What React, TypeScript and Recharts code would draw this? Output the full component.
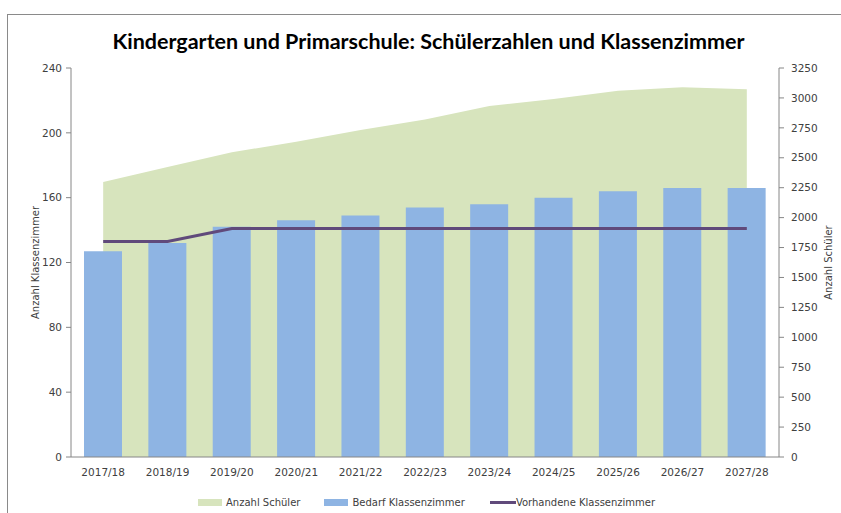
import {
  ComposedChart,
  Area,
  Bar,
  Line,
  XAxis,
  YAxis,
  Legend,
} from "recharts";

const categories = [
  "2017/18",
  "2018/19",
  "2019/20",
  "2020/21",
  "2021/22",
  "2022/23",
  "2023/24",
  "2024/25",
  "2025/26",
  "2026/27",
  "2027/28",
];
// Anzahl Schüler (right axis)
const schueler = [2297, 2423, 2546, 2633, 2732, 2820, 2932, 2990, 3060, 3089, 3073];
// Bedarf Klassenzimmer (left axis)
const bedarf = [127, 132, 142, 146, 149, 154, 156, 160, 164, 166, 166];
// Vorhandene Klassenzimmer (left axis)
const vorhanden = [133, 133, 141, 141, 141, 141, 141, 141, 141, 141, 141];

const leftTicks = [0, 40, 80, 120, 160, 200, 240];
const rightTicks = [
  0, 250, 500, 750, 1000, 1250, 1500, 1750, 2000, 2250, 2500, 2750, 3000, 3250,
];

const data = categories.map((c, i) => ({
  jahr: c,
  schueler: schueler[i],
  bedarf: bedarf[i],
  vorhanden: vorhanden[i],
}));

const GREEN = "#D7E4BD";
const BLUE = "#8EB4E3";
const PURPLE = "#604A7B";
const AXIS = "#868686";
const FONT = "'DejaVu Sans', Verdana, sans-serif";
const tickStyle = { fontSize: 10.5, fill: "#404040", fontFamily: FONT };

function AxisTitle({ viewBox, value, dx }: any) {
  const x = viewBox.x + dx;
  const y = viewBox.y + viewBox.height / 2;
  return (
    <text
      x={x}
      y={y}
      transform={`rotate(-90, ${x}, ${y})`}
      textAnchor="middle"
      dominantBaseline="central"
      fontSize={10}
      fontFamily={FONT}
      fill="#404040"
    >
      {value}
    </text>
  );
}

function LegendBox() {
  const text = { fontSize: 10, fontFamily: FONT, color: "#404040" };
  return (
    <div
      style={{
        display: "flex",
        alignItems: "center",
        height: 22,
        paddingLeft: 198,
        whiteSpace: "nowrap",
      }}
    >
      <span style={{ width: 24, height: 7, background: GREEN, marginRight: 4 }} />
      <span style={{ ...text, marginRight: 24 }}>Anzahl Schüler</span>
      <span style={{ width: 24, height: 7, background: BLUE, marginRight: 4 }} />
      <span style={{ ...text, marginRight: 25 }}>Bedarf Klassenzimmer</span>
      <span style={{ width: 26, height: 3, background: PURPLE }} />
      <span style={text}>Vorhandene Klassenzimmer</span>
    </div>
  );
}

export default function App() {
  return (
    <div
      style={{
        position: "absolute",
        left: 0,
        top: 0,
        width: 841,
        height: 513,
        background: "#fff",
        overflow: "hidden",
      }}
    >
      <div
        style={{
          position: "absolute",
          left: 7,
          top: 14,
          width: 900,
          height: 600,
          border: "1.5px solid #8a8a8a",
        }}
      />
      <ComposedChart
        width={841}
        height={513}
        data={data}
        margin={{ top: 68, right: 0, bottom: 0, left: 0 }}
        style={{ position: "absolute", left: 0, top: 0 }}
      >
        <XAxis
          dataKey="jahr"
          height={34}
          stroke={AXIS}
          tickLine={false}
          tick={tickStyle}
          tickSize={5}
          tickMargin={7}
          interval={0}
        />
        <YAxis
          yAxisId="left"
          orientation="left"
          width={71}
          domain={[0, 240]}
          ticks={leftTicks}
          stroke={AXIS}
          tick={tickStyle}
          tickSize={5}
          tickMargin={4}
          label={(p: any) => (
            <AxisTitle {...p} value="Anzahl Klassenzimmer" dx={35} />
          )}
        />
        <YAxis
          yAxisId="right"
          orientation="right"
          width={62}
          domain={[0, 3250]}
          ticks={rightTicks}
          stroke={AXIS}
          tick={{ ...tickStyle, textAnchor: "start" }}
          tickSize={5}
          tickMargin={7}
          label={(p: any) => (
            <AxisTitle {...p} value="Anzahl Schüler" dx={49} />
          )}
        />
        <Legend
          verticalAlign="bottom"
          wrapperStyle={{ left: 0, width: 841 }}
          content={() => <LegendBox />}
        />
        <Area
          yAxisId="right"
          dataKey="schueler"
          name="Anzahl Schüler"
          type="linear"
          fill={GREEN}
          fillOpacity={1}
          stroke="none"
          isAnimationActive={false}
        />
        <Bar
          yAxisId="left"
          dataKey="bedarf"
          name="Bedarf Klassenzimmer"
          fill={BLUE}
          barSize={38}
          isAnimationActive={false}
        />
        <Line
          yAxisId="left"
          dataKey="vorhanden"
          name="Vorhandene Klassenzimmer"
          type="linear"
          stroke={PURPLE}
          strokeWidth={3}
          dot={false}
          activeDot={false}
          isAnimationActive={false}
        />
      </ComposedChart>
      <div
        style={{
          position: "absolute",
          top: 28,
          left: 8,
          width: 841,
          textAlign: "center",
          fontFamily: "Lato, sans-serif",
          fontWeight: 700,
          fontSize: 21.5,
          lineHeight: "26px",
          color: "#000",
        }}
      >
        Kindergarten und Primarschule: Schülerzahlen und Klassenzimmer
      </div>
    </div>
  );
}
